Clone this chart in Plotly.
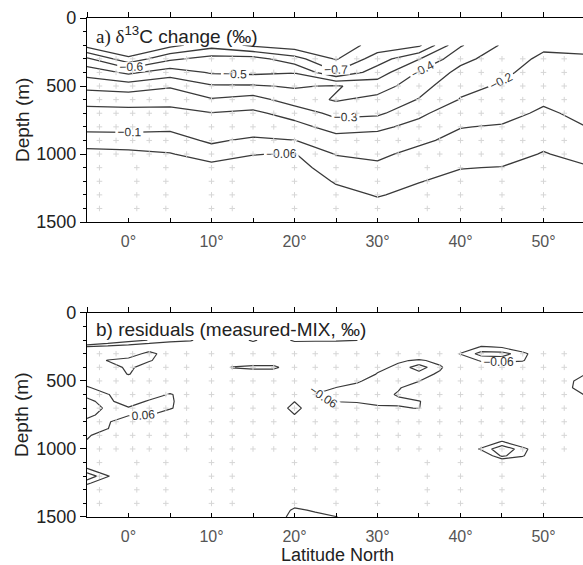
import numpy as np
import plotly.graph_objects as go

# ---------------- panel a: d13C change (permil) ----------------
lat_a = [-5, 0, 5, 10, 15, 20, 25, 30, 35, 40, 45, 50, 55]
depth_a = [200, 300, 400, 500, 600, 700, 800, 900, 1000, 1100, 1200, 1300, 1400, 1500]

# one column per latitude, values from 200 m down to 1500 m
col_m05 = [-0.84, -0.58, -0.44, -0.33, -0.23, -0.17, -0.115, -0.075, -0.05, -0.04, -0.035, -0.03, -0.03, -0.025]
col_p00 = [-0.95, -0.77, -0.52, -0.35, -0.24, -0.17, -0.115, -0.078, -0.052, -0.042, -0.036, -0.032, -0.03, -0.027]
col_p05 = [-0.83, -0.62, -0.45, -0.31, -0.235, -0.17, -0.11, -0.08, -0.058, -0.045, -0.038, -0.033, -0.03, -0.028]
col_p10 = [-0.74, -0.56, -0.51, -0.39, -0.29, -0.195, -0.145, -0.108, -0.075, -0.05, -0.042, -0.036, -0.032, -0.03]
col_p15 = [-0.82, -0.56, -0.52, -0.39, -0.26, -0.18, -0.13, -0.09, -0.061, -0.048, -0.04, -0.035, -0.032, -0.03]
col_p20 = [-0.86, -0.66, -0.505, -0.41, -0.35, -0.24, -0.165, -0.098, -0.058, -0.045, -0.038, -0.034, -0.031, -0.03]
col_p25 = [-0.86, -0.81, -0.69, -0.39, -0.41, -0.33, -0.24, -0.16, -0.102, -0.08, -0.063, -0.05, -0.042, -0.038]
col_p30 = [-0.76, -0.65, -0.55, -0.45, -0.37, -0.32, -0.22, -0.16, -0.11, -0.09, -0.075, -0.062, -0.05, -0.045]
col_p35 = [-0.72, -0.505, -0.39, -0.34, -0.295, -0.22, -0.17, -0.11, -0.085, -0.075, -0.061, -0.052, -0.045, -0.04]
col_p40 = [-0.41, -0.33, -0.27, -0.225, -0.195, -0.14, -0.102, -0.085, -0.072, -0.061, -0.052, -0.045, -0.04, -0.036]
col_p45 = [-0.29, -0.25, -0.22, -0.19, -0.155, -0.12, -0.095, -0.083, -0.072, -0.059, -0.05, -0.044, -0.04, -0.036]
col_p50 = [-0.22, -0.18, -0.155, -0.13, -0.11, -0.09, -0.078, -0.068, -0.058, -0.05, -0.045, -0.04, -0.037, -0.034]
col_p55 = [-0.22, -0.19, -0.17, -0.15, -0.13, -0.115, -0.099, -0.083, -0.07, -0.057, -0.05, -0.045, -0.04, -0.037]

z_a = np.array([col_m05, col_p00, col_p05, col_p10, col_p15, col_p20, col_p25,
                col_p30, col_p35, col_p40, col_p45, col_p50, col_p55]).T

# ---------------- panel b: residuals (measured - MIX) ----------------
lat_b = np.arange(-5, 55.01, 2.5)
depth_b = np.arange(200, 1500.1, 50)

# residual anomalies (lat, depth, value); elsewhere residual ~ 0
res_lat = [-5, -2.5, 0, 2.5, 5, 7.5, -5, -2.5, 0, 2.5,
           -2.5, 0, 0, 0, 2.5, 2.5,
           -5, -5, -5, -5, -5, -5, -5, -5, -5,
           -2.5, -2.5, -2.5, -2.5, -2.5, -2.5,
           0, 0, 2.5, 2.5, 2.5, 5, 5, 5,
           -5, -5, -5, -2.5,
           15, 20, 22.5, 25, 27.5,
           12.5, 15, 17.5,
           20, 20, 20,
           22.5, 25, 25, 25, 27.5, 27.5, 27.5, 27.5,
           30, 30, 30, 30, 30, 30, 30,
           32.5, 32.5, 32.5, 32.5, 32.5, 32.5, 32.5, 32.5,
           35, 35, 35, 35, 35, 35, 35,
           37.5, 37.5, 37.5,
           40, 42.5, 42.5, 42.5, 45, 45, 45, 47.5, 47.5,
           42.5, 45, 45, 45, 47.5, 47.5,
           52.5, 52.5, 55, 55, 55, 55,
           20, 20, 20, 22.5, 22.5, 25]
res_depth = [200, 200, 200, 200, 200, 200, 250, 250, 250, 250,
             350, 350, 400, 450, 300, 350,
             550, 600, 650, 700, 750, 800, 850, 900, 950,
             600, 650, 700, 750, 800, 850,
             700, 750, 650, 700, 750, 600, 650, 700,
             1150, 1200, 1250, 1200,
             200, 200, 200, 200, 200,
             400, 400, 400,
             650, 700, 750,
             600, 550, 600, 650, 500, 550, 600, 650,
             400, 450, 500, 550, 600, 650, 700,
             350, 400, 450, 500, 550, 600, 650, 700,
             350, 400, 450, 500, 550, 650, 700,
             350, 400, 450,
             300, 250, 300, 350, 250, 300, 350, 300, 350,
             1000, 950, 1000, 1050, 1000, 1050,
             500, 550, 450, 500, 550, 600,
             1400, 1450, 1500, 1450, 1500, 1500]
res_val = [0.2, 0.15, 0.12, 0.098, 0.08, 0.068, 0.055, 0.045, 0.035, 0.02,
           -0.065, -0.095, -0.085, -0.065, -0.095, -0.07,
           0.075, 0.09, 0.11, 0.13, 0.11, 0.09, 0.085, 0.075, 0.05,
           0.065, 0.085, 0.09, 0.085, 0.07, 0.062,
           0.07, 0.068, 0.075, 0.08, 0.065, 0.07, 0.075, 0.07,
           0.07, 0.13, 0.075, 0.065,
           0.075, 0.075, 0.072, 0.07, 0.062,
           -0.065, -0.08, -0.08,
           0.058, 0.09, 0.058,
           -0.065, -0.062, -0.075, -0.064, -0.055, -0.07, -0.08, -0.072,
           -0.04, -0.065, -0.075, -0.08, -0.08, -0.075, -0.05,
           -0.05, -0.075, -0.085, -0.075, -0.065, -0.055, -0.07, -0.055,
           -0.07, -0.12, -0.085, -0.062, -0.03, -0.065, -0.062,
           -0.04, -0.07, -0.05,
           -0.065, -0.065, -0.115, -0.07, -0.055, -0.115, -0.08, -0.08, -0.065,
           0.07, 0.07, 0.13, 0.11, 0.08, 0.065,
           0.03, 0.035, 0.058, 0.095, 0.098, 0.065,
           0.03, 0.075, 0.1, 0.05, 0.085, 0.065]

z_b = np.zeros((len(depth_b), len(lat_b)))
for la, de, va in zip(res_lat, res_depth, res_val):
    i = int(round((de - depth_b[0]) / 50))
    j = int(round((la - lat_b[0]) / 2.5))
    z_b[i, j] = va

# ---------------- sample positions (faint grey crosses) ----------------
dot_lat_upper = [-3.5, -1.5, 0.5, 2.5, 4.5, 7, 10, 12.5, 15, 17.5, 20, 22.5, 25,
                 27.5, 30, 32.5, 35, 37.5, 40, 42.5, 45, 47.5, 50, 52.5]
dot_depth_upper = [300, 400, 500, 600, 700, 800, 900, 1000]
dot_lat_deep = [-3.5, 1, 4.5, 10, 12.5, 20, 25, 30, 36, 40, 45, 50]
dot_depth_deep = [1100, 1200, 1300, 1400]

dx, dy = [], []
for d in dot_depth_upper:
    for la in dot_lat_upper:
        dx.append(la); dy.append(d)
for d in dot_depth_deep:
    for la in dot_lat_deep:
        dx.append(la); dy.append(d)

LINE = '#3a3a3a'
LBL = dict(size=12, color='#333', family='Liberation Sans, Arial, sans-serif')

fig = go.Figure()

for xa, ya in [('x', 'y'), ('x2', 'y2')]:
    fig.add_trace(go.Scatter(x=dx, y=dy, mode='markers', xaxis=xa, yaxis=ya,
                             marker=dict(symbol='cross-thin', size=4,
                                         line=dict(color='#d6d6d6', width=1)),
                             hoverinfo='skip', showlegend=False))

# panel a contours
fig.add_trace(go.Contour(x=lat_a, y=depth_a, z=z_a, xaxis='x', yaxis='y',
                         contours=dict(coloring='none', showlabels=True, start=-0.8, end=-0.099, size=0.1,
                                       labelfont=LBL, labelformat='.2~f'),
                         line=dict(color=LINE, width=1.3, smoothing=0),
                         showscale=False, hoverinfo='skip'))
fig.add_trace(go.Contour(x=lat_a, y=depth_a, z=z_a, xaxis='x', yaxis='y',
                         contours=dict(coloring='none', showlabels=True, start=-0.06, end=-0.06, size=1,
                                       labelfont=LBL, labelformat='.2~f'),
                         line=dict(color=LINE, width=1.3, smoothing=0),
                         showscale=False, hoverinfo='skip'))

# panel b contours
fig.add_trace(go.Contour(x=lat_b, y=depth_b, z=z_b, xaxis='x2', yaxis='y2',
                         contours=dict(coloring='none', showlabels=True, start=-0.1, end=-0.059, size=0.04,
                                       labelfont=LBL, labelformat='.2~f'),
                         line=dict(color=LINE, width=1.2, smoothing=0),
                         showscale=False, hoverinfo='skip'))
fig.add_trace(go.Contour(x=lat_b, y=depth_b, z=z_b, xaxis='x2', yaxis='y2',
                         contours=dict(coloring='none', showlabels=True, start=0.06, end=0.101, size=0.04,
                                       labelfont=LBL, labelformat='.2~f'),
                         line=dict(color=LINE, width=1.2, smoothing=0),
                         showscale=False, hoverinfo='skip'))

# dummy traces so the top axes are drawn
fig.add_trace(go.Scatter(x=[None], y=[None], xaxis='x3', yaxis='y', showlegend=False, hoverinfo='skip'))
fig.add_trace(go.Scatter(x=[None], y=[None], xaxis='x4', yaxis='y2', showlegend=False, hoverinfo='skip'))

XR = [-5, 54.76]
xbottom = dict(range=XR, showgrid=False, zeroline=False, showline=True, linecolor='black', linewidth=1.2,
               tick0=0, dtick=10, ticksuffix='°', ticks='inside', ticklen=4, tickcolor='black', tickwidth=1,
               tickfont=dict(size=16, color='#555'), ticklabelstandoff=5,
               minor=dict(tick0=0, dtick=5, ticks='inside', ticklen=4, tickcolor='black', tickwidth=1))
xtop = dict(range=XR, showgrid=False, zeroline=False, showline=True, linecolor='black', linewidth=1.2,
            side='top', tick0=0, dtick=10, ticks='outside', ticklen=5, tickcolor='black', tickwidth=1,
            showticklabels=False,
            minor=dict(tick0=0, dtick=5, ticks='outside', ticklen=5, tickcolor='black', tickwidth=1))
yax = dict(range=[1500, 0], showgrid=False, zeroline=False, showline=True, linecolor='black', linewidth=1.2,
           tickvals=[0, 500, 1000, 1500], ticks='outside', ticklen=6, tickcolor='black', tickwidth=1,
           tickfont=dict(size=18, color='#222'),
           minor=dict(dtick=100, tick0=0, ticks='outside', ticklen=3, tickcolor='black', tickwidth=1))

fig.update_layout(
    width=583, height=565,
    margin=dict(l=87, r=0, t=18, b=48),
    plot_bgcolor='white', paper_bgcolor='white', showlegend=False,
    font=dict(family='Liberation Sans, Arial, sans-serif', color='#222'),
    xaxis=dict(xbottom, anchor='y'),
    xaxis2=dict(xbottom, anchor='y2'),
    xaxis3=dict(xtop, overlaying='x', anchor='y', matches='x'),
    xaxis4=dict(xtop, overlaying='x2', anchor='y2', matches='x2'),
    yaxis=dict(yax, domain=[0.591, 1.0], anchor='x'),
    yaxis2=dict(yax, domain=[0.0, 0.409], anchor='x2'),
)

ann_font = dict(size=19, color='#222', family='Liberation Sans, Arial, sans-serif')
fig.add_annotation(xref='paper', yref='paper', x=0.014, y=0.964, xanchor='left', yanchor='middle',
                   text='<span style="font-family:Liberation Serif">a) δ</span><sup>13</sup>C change (‰)',
                   showarrow=False, font=ann_font)
fig.add_annotation(xref='paper', yref='paper', x=0.014, y=0.375, xanchor='left', yanchor='middle',
                   text='b) residuals (measured-MIX, ‰)', showarrow=False, font=ann_font)
fig.add_annotation(xref='paper', yref='paper', x=-0.131, y=0.7955, xanchor='center', yanchor='middle',
                   text='Depth (m)', textangle=-90, showarrow=False, font=ann_font)
fig.add_annotation(xref='paper', yref='paper', x=-0.131, y=0.2045, xanchor='center', yanchor='middle',
                   text='Depth (m)', textangle=-90, showarrow=False, font=ann_font)
fig.add_annotation(xref='paper', yref='paper', x=0.505, y=-0.076, xanchor='center', yanchor='middle',
                   text='Latitude North', showarrow=False,
                   font=dict(size=18, color='#222', family='Liberation Sans, Arial, sans-serif'))

fig.write_html('out.html')
